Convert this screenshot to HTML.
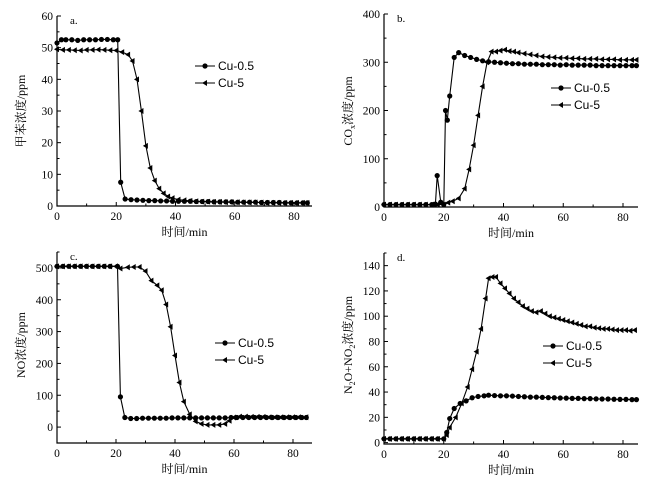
<!DOCTYPE html>
<html><head><meta charset="utf-8"><style>
body{margin:0;background:#fff}
svg{display:block;font-family:"Liberation Serif","Noto Serif CJK SC","Noto Sans CJK SC",serif}
</style></head><body>
<svg id="c" width="671" height="484"></svg>
<script>
// ---- data ----
const aX1=[0,1.5,3,5,7,9,11,13,15,17,19,20.5,21.5,23,25,27,29,31,33,35,37,39,41,43,45,47,49,51,53,55,57,59,61,63,65,67,69,71,73,75,77,79,81,83,84.5];
const aY1=[51.5,52.5,52.5,52.5,52.3,52.5,52.5,52.5,52.6,52.6,52.5,52.5,7.5,2.2,2,1.9,1.8,1.7,1.7,1.6,1.6,1.5,1.5,1.5,1.5,1.4,1.4,1.4,1.3,1.3,1.3,1.3,1.2,1.2,1.2,1.2,1.1,1.1,1.1,1.1,1,1,1,1,1];
const aX2=[0,2,4,6,8,10,12,14,16,18,20,22,24,25.5,27,28.5,30,31.5,33,34.5,36,37.5,39,41,43,45,47,49,51,53,55,57,59,61,63,65,67,69,71,73,75,77,79,81,83,84.5];
const aY2=[49.5,49.3,49.3,49.2,49.1,49.3,49.3,49.4,49.3,49.2,49.1,48.6,47.8,45.8,40,30,19,12,8,5.5,4,3,2.5,2,1.8,1.6,1.5,1.4,1.4,1.3,1.3,1.2,1.2,1.2,1.1,1.1,1.1,1.1,1,1,1,1,1,1,1,1];
const bX1=[0,2,4,6,8,10,12,14,16,17.2,17.8,19,20,20.6,21.2,22,23.5,25,27,29,31,33,35,37,39,41,43,45,47,49,51,53,55,57,59,61,63,65,67,69,71,73,75,77,79,81,83,84.5];
const bY1=[5,5,5,5,5,5,5,5,5,6,65,10,5,200,180,230,310,320,314,310,306,303,301,300,299,298,297,297,296,296,296,295,295,295,294,295,294,294,294,294,293,293,293,293,293,293,293,293];
const bX2=[0,2,4,6,8,10,12,14,16,18,20,21.5,23,25,27,28.5,30,31.5,33,34.5,36,37.5,39,40.5,42,43.5,45,47,49,51,53,55,57,59,61,63,65,67,69,71,73,75,77,79,81,83,84.5];
const bY2=[5,5,5,5,5,5,5,5,5,5,5,9,12,18,38,78,128,190,250,300,322,322,324,326,323,322,320,318,316,314,312,311,310,309,309,308,308,307,307,307,306,306,306,305,305,305,305];
const cX1=[0,2,4,6,8,10,12,14,16,18,20.5,21.5,23,25,27,29,31,33,35,37,39,41,43,45,47,49,51,53,55,57,59,61,63,65,67,69,71,73,75,77,79,81,83,84.5];
const cY1=[505,505,505,505,505,505,505,505,505,505,505,95,30,27,27,28,28,28,28,28,29,29,29,29,29,29,29,29,29,29,30,30,30,30,30,30,30,30,30,30,30,30,30,30];
const cX2=[0,2,4,6,8,10,12,14,16,18,20,21.5,24,26,28,30,32,34,35.5,37,38.5,40,41.5,43,45,47,49,51,53,55,57,58.5,60,62,64,66,68,70,72,74,76,78,80,82,84.5];
const cY2=[505,505,505,505,505,505,505,505,505,505,505,498,502,503,503,490,460,445,430,385,315,225,140,80,40,18,10,7,7,7,10,20,30,33,33,32,32,32,31,31,31,31,31,31,31];
const dX1=[0,2,4,6,8,10,12,14,16,18,20,21,22,23.5,25.5,27.5,29.5,31.5,33.5,35,37,39,41,43,45,47,49,51,53,55,57,59,61,63,65,67,69,71,73,75,77,79,81,83,84.5];
const dY1=[3,3,3,3,3,3,3,3,3,3,3,8,19,27,31,33,35.5,36.5,37,37.5,37.2,37,37,36.8,36.5,36.3,36,36,35.8,35.6,35.5,35.3,35.2,35,35,34.8,34.8,34.6,34.5,34.5,34.3,34.2,34.2,34,34];
const dX2=[0,2,4,6,8,10,12,14,16,18,20,21,22,24,26,28,29.5,31,32.5,34,35,36.3,37.5,39,40.5,42,43.5,45,46.5,48,49.5,51,52.5,54,55.5,57,58.5,60,61.5,63,64.5,66,67.5,69,70.5,72,73.5,75,76.5,78,79.5,81,82.5,84];
const dY2=[3,3,3,3,3,3,3,3,3,3,3,6,12,20,31,44,58,72,90,114,130,131,131,126,122,118,114,111,108,106,104,103,104,102,100,99,98,97,96,95,94,93,92,92,91,90.5,90,90,89.5,89,89,89,88.5,89];
const xTicks=[0,20,40,60,80];
const aTicks=[0,10,20,30,40,50,60], bTicks=[0,100,200,300,400], cTicks=[0,100,200,300,400,500], dTicks=[0,20,40,60,80,100,120,140];
const seriesNames=["Cu-0.5","Cu-5"];

const NS="http://www.w3.org/2000/svg";
const svg=document.getElementById('c');
function mk(tag,at,parent){const e=document.createElementNS(NS,tag);for(const k in at)e.setAttribute(k,at[k]);(parent||svg).appendChild(e);return e;}

const panels=[
 {id:"a",x0:57,x80:294,xr:312,yb:206,yt:16,ymin:0,ymax:60,ticks:aTicks,minor:5,label:"a.",title:"甲苯浓度/ppm",s:[[aX1,aY1],[aX2,aY2]],leg:[195,66],tx:25,ty:111},
 {id:"b",x0:384,x80:623,xr:638,yb:207,yt:14,ymin:0,ymax:400,ticks:bTicks,minor:50,label:"b.",title:"CO<sub>x</sub>浓度/ppm",s:[[bX1,bY1],[bX2,bY2]],leg:[551,88],tx:352,ty:111},
 {id:"c",x0:57,x80:293,xr:312,yb:443,yt:252,ymin:-50,ymax:550,ticks:cTicks,minor:50,label:"c.",title:"NO浓度/ppm",s:[[cX1,cY1],[cX2,cY2]],leg:[215,343],tx:25,ty:345},
 {id:"d",x0:384,x80:623,xr:638,yb:444,yt:253,ymin:-1.1,ymax:150,ticks:dTicks,minor:10,label:"d.",title:"N2O+NO2浓度/ppm",s:[[dX1,dY1],[dX2,dY2]],leg:[543,346],tx:352,ty:345}
];

panels.forEach(p=>{
 const g=mk('g',{});
 
 
 const X=v=>p.x0+(p.x80-p.x0)*v/80;
 const Y=v=>p.yb-(p.yb-p.yt)*(v-p.ymin)/(p.ymax-p.ymin);
 const ax=mk('path',{d:`M${p.x0},${p.yt}V${p.yb}H${p.xr}`,stroke:'#000','stroke-width':1.2,fill:'none'},g);
 
 
 for(let v=0;v<=85;v+=10){const maj=v%20===0;mk('line',{x1:X(v),x2:X(v),y1:p.yb,y2:p.yb-(maj?4:2.5),stroke:'#000','stroke-width':1},g);}
 xTicks.forEach(v=>{const t=mk('text',{x:X(v),y:p.yb+14,'text-anchor':'middle','font-size':11.5},g);t.textContent=v;
  
  });
 for(let v=p.ymin<0?-p.minor:0;v<=p.ymax;v+=p.minor){if(v<p.ymin)continue;const maj=p.ticks.includes(v);mk('line',{x1:p.x0,x2:p.x0+(maj?4:2.5),y1:Y(v),y2:Y(v),stroke:'#000','stroke-width':1},g);}
 p.ticks.forEach(v=>{const t=mk('text',{x:p.x0-4,y:Y(v)+4,'text-anchor':'end','font-size':11.5},g);t.textContent=v;
  
  });
 const lb=mk('text',{x:p.x0+13,y:p.yt+8,'font-size':11},g);lb.textContent=p.label;
 
 
 const xt=mk('text',{x:(p.x0+p.xr)/2,y:p.yb+30,'text-anchor':'middle','font-size':12},g);xt.textContent="时间/min";
 
 
 const yt=mk('text',{x:0,y:0,'text-anchor':'middle','font-size':12,transform:`translate(${p.tx},${p.ty}) rotate(-90)`},g);
 
 
 if(p.id==="b"){yt.innerHTML='CO<tspan font-size="8" dy="3">x</tspan><tspan dy="-3">浓度/ppm</tspan>';}
 else if(p.id==="d"){yt.innerHTML='N<tspan font-size="8" dy="3">2</tspan><tspan dy="-3">O+NO</tspan><tspan font-size="8" dy="3">2</tspan><tspan dy="-3">浓度/ppm</tspan>';}
 else yt.textContent=p.title;
 function marker(k,x,y,parent){
  if(k===0)return mk('circle',{cx:x,cy:y,r:2.6,fill:'#000'},parent);
  return mk('path',{d:`M${x-3},${y}L${x+2},${y-3}L${x+2},${y+3}Z`,fill:'#000'},parent);
 }
 p.s.forEach((s,k)=>{
  const sg=mk('g',{},g);
  
  
  const pts=s[0].map((xv,i)=>X(xv).toFixed(1)+','+Y(s[1][i]).toFixed(1)).join(' ');
  mk('polyline',{points:pts,fill:'none',stroke:'#000','stroke-width':1.1},sg);
  s[0].forEach((xv,i)=>marker(k,X(xv),Y(s[1][i]),sg));
 });
 seriesNames.forEach((n,k)=>{
  const lg=mk('g',{},g);
  
  
  const ly=p.leg[1]+k*17;
  mk('line',{x1:p.leg[0],x2:p.leg[0]+20,y1:ly,y2:ly,stroke:'#000','stroke-width':1.1},lg);
  marker(k,p.leg[0]+10,ly,lg);
  const t=mk('text',{x:p.leg[0]+23,y:ly+4,'font-size':12,'font-family':'Liberation Sans, sans-serif'},lg);t.textContent=n;
 });
});
</script>
</body></html>
